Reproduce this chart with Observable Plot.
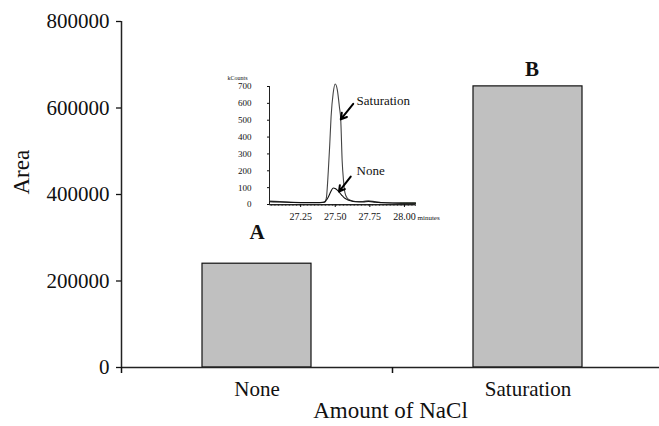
<!DOCTYPE html>
<html>
<head>
<meta charset="utf-8">
<script src="https://cdn.jsdelivr.net/npm/d3@7"></script>
<script src="https://cdn.jsdelivr.net/npm/@observablehq/plot@0.6"></script>
<style>
  html, body { margin: 0; padding: 0; background: #fff; }
  #wrap { position: relative; width: 659px; height: 426px; overflow: hidden; }
  #inset { position: absolute; left: 220px; top: 70px; }
</style>
</head>
<body>
<div id="wrap"><div id="main"></div><div id="inset"></div></div>
<script>
// ---- main bar chart data ----
const categories = ["None", "Saturation"];
const areas = [240000, 650000];
const barLabels = ["A", "B"];
const yTicks = [0, 200000, 400000, 600000, 800000];

// ---- inset chromatogram data (minutes, kCounts) ----
const times = [27.025, 27.10, 27.20, 27.30, 27.39, 27.42, 27.435, 27.45, 27.46, 27.47, 27.485, 27.50, 27.515, 27.53, 27.54, 27.55, 27.56, 27.57, 27.585, 27.61, 27.645, 27.70, 27.74, 27.79, 27.86, 27.97, 28.08];
const saturation = [20, 17, 13, 12, 12, 14, 35, 200, 350, 520, 660, 715, 680, 580, 500, 260, 140, 70, 40, 25, 18, 18, 22, 16, 10, 8, 8];
const none = [16, 15, 12, 11, 11, 13, 25, 45, 62, 80, 98, 95, 85, 72, 62, 52, 44, 37, 30, 22, 16, 15, 18, 14, 10, 8, 8];
const greenTimes = [27.97, 28.08];
const greenValues = [8, 8];
const insetYTicks = [0, 100, 200, 300, 400, 500, 600, 700];
const insetXTicks = [27.25, 27.50, 27.75, 28.00];
const annLabels = ["Saturation", "None"];
const annTime = [27.654, 27.654];
const annValue = [617, 202];
const arrowTailTime = [27.63, 27.612];
const arrowTailValue = [597, 166];
const arrowHeadTime = [27.54, 27.527];
const arrowHeadValue = [505, 77];

const FONT = "Liberation Serif, Times New Roman, serif";
const INK = "#111";

const bars = categories.map((c, i) => ({ i, category: c, area: areas[i], label: barLabels[i] }));

const main = Plot.plot({
  width: 659,
  height: 426,
  marginLeft: 121,
  marginTop: 21,
  marginBottom: 59,
  marginRight: 0,
  style: { fontFamily: FONT, fontSize: "21px", color: INK, background: "transparent", overflow: "visible" },
  x: { domain: [0, categories.length], range: [121, 663] },
  y: { domain: [yTicks[0], yTicks[yTicks.length - 1]] },
  marks: [
    Plot.rectY(bars, { x1: d => d.i, x2: d => d.i + 1, y: "area", insetLeft: 81, insetRight: 81, fill: "#c0c0c0", stroke: INK, strokeWidth: 1.2 }),
    Plot.ruleX([0], { stroke: "#222", strokeWidth: 1.5 }),
    Plot.ruleY([0], { stroke: "#222", strokeWidth: 1.5 }),
    Plot.axisY({ ticks: yTicks, tickFormat: d3.format("d"), tickSize: 5, tickPadding: 7, fontSize: 21, label: null, strokeWidth: 1.3 }),
    Plot.axisX({ ticks: d3.range(categories.length + 1), tickFormat: () => "", tickSize: 6, label: null, strokeWidth: 1.5 }),
    Plot.axisX({ ticks: categories.map((c, i) => i + 0.5), tickFormat: v => categories[Math.floor(v)], tickSize: 0, tickPadding: 14, fontSize: 21, label: null }),
    Plot.text(["Area"], { text: d => d, frameAnchor: "left", dx: -100, rotate: -90, fontSize: 23 }),
    Plot.text(["Amount of NaCl"], { text: d => d, frameAnchor: "bottom", dy: 50, fontSize: 23 }),
    Plot.text([bars[0]], { x: d => d.i + 0.5, y: "area", text: "label", dy: -31, fontWeight: "bold", fontSize: 21 }),
    Plot.text([bars[1]], { x: d => d.i + 0.5, y: "area", text: "label", dx: 4, dy: -17, fontWeight: "bold", fontSize: 21 })
  ]
});
document.getElementById("main").appendChild(main);

// ---- inset ----
const satData = times.map((t, i) => ({ t, v: saturation[i] }));
const noneData = times.map((t, i) => ({ t, v: none[i] }));
const greenData = greenTimes.map((t, i) => ({ t, v: greenValues[i] }));
const anns = annLabels.map((s, i) => ({
  s, t: annTime[i], v: annValue[i],
  t1: arrowTailTime[i], v1: arrowTailValue[i], t2: arrowHeadTime[i], v2: arrowHeadValue[i]
}));

const inset = Plot.plot({
  width: 228,
  height: 156,
  marginLeft: 49,
  marginRight: 33,
  marginTop: 16,
  marginBottom: 22,
  style: { fontFamily: FONT, fontSize: "10px", color: INK, background: "transparent", overflow: "visible" },
  x: { domain: [times[0], times[times.length - 1]] },
  y: { domain: [insetYTicks[0], insetYTicks[insetYTicks.length - 1]] },
  marks: [
    Plot.ruleX([times[0]], { stroke: "#222", strokeWidth: 1 }),
    Plot.ruleY([0], { stroke: "#333", strokeWidth: 1 }),
    Plot.axisY({ ticks: insetYTicks, tickSize: 2, tickPadding: 16, fontSize: 9, label: null }),
    Plot.axisX({ ticks: d3.ticks(times[0], times[times.length - 1], 100), tickFormat: () => "", tickSize: 2, label: null, strokeWidth: 0.7 }),
    Plot.axisX({ ticks: insetXTicks, tickFormat: d3.format(".2f"), tickSize: 3, tickPadding: 5, fontSize: 10, label: null }),
    Plot.line(greenData, { x: "t", y: "v", stroke: "#6aa84f", strokeWidth: 1, strokeDasharray: "2,1" }),
    Plot.line(satData, { x: "t", y: "v", stroke: "#444", strokeWidth: 1.1, curve: "monotone-x" }),
    Plot.line(noneData, { x: "t", y: "v", stroke: "#111", strokeWidth: 1.1, curve: "monotone-x" }),
    Plot.arrow(anns, { x1: "t1", y1: "v1", x2: "t2", y2: "v2", stroke: "#000", strokeWidth: 2, headLength: 7, headAngle: 60 }),
    Plot.text(anns, { x: "t", y: "v", text: "s", textAnchor: "start", fontSize: 13 }),
    Plot.text(["kCounts"], { text: d => d, frameAnchor: "top-left", dx: -42, dy: -11, textAnchor: "start", fontSize: 6 }),
    Plot.text(["minutes"], { text: d => d, frameAnchor: "bottom-right", dx: 2, dy: 15, textAnchor: "start", fontSize: 7 })
  ]
});
document.getElementById("inset").appendChild(inset);
</script>
</body>
</html>
